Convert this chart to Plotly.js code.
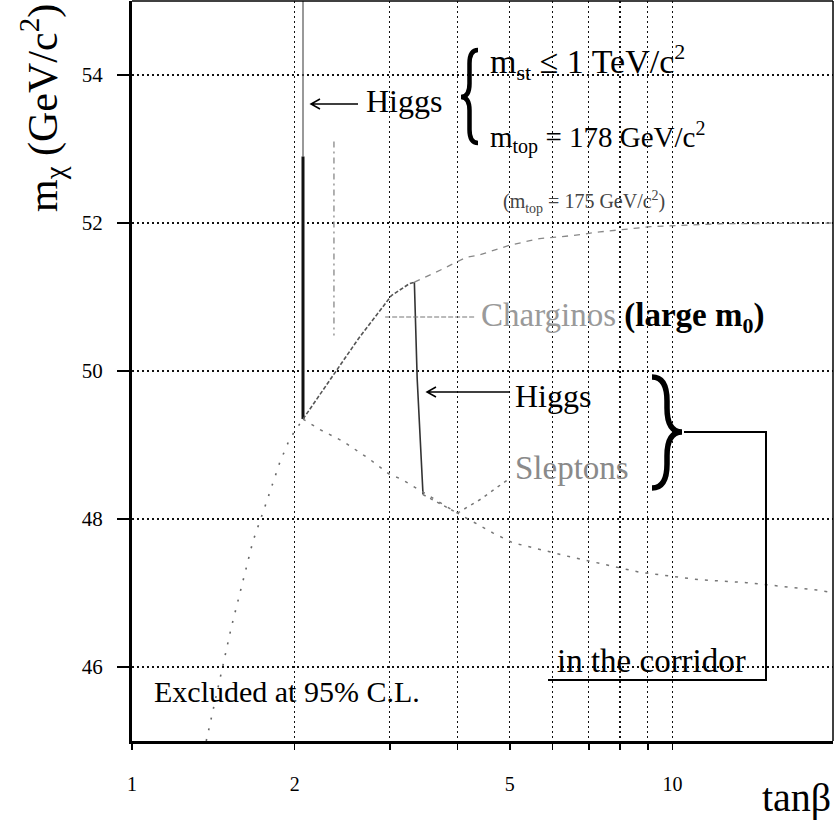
<!DOCTYPE html>
<html><head><meta charset="utf-8">
<script src="https://cdn.plot.ly/plotly-3.0.1.min.js"></script>
<style>html,body{margin:0;padding:0;background:#fff}</style>
</head><body>
<div id="chart" style="width:838px;height:821px"></div>
<script>
// ---- data (tanβ, m_χ in GeV/c²) ----
const higgsThinTanB = [2.072, 2.072];
const higgsThinMass = [55.0, 52.9];
const higgsThickTanB = [2.072, 2.072];
const higgsThickMass = [52.9, 49.35];

const charginoTanB = [2.072, 2.62, 3.02, 3.26, 3.33];
const charginoMass = [49.35, 50.43, 51.02, 51.18, 51.2];

const higgs2TanB = [3.33, 3.37, 3.455];
const higgs2Mass = [51.2, 49.9, 48.33];

const lowLeftTanB = [1.372, 1.483, 1.526, 1.604, 1.674, 1.772, 1.876, 1.957, 2.072];
const lowLeftMass = [45.0, 46.12, 46.53, 47.16, 47.7, 48.22, 48.76, 49.08, 49.35];

const fallTanB = [2.072, 2.225, 2.456, 2.75, 3.0, 3.15, 4.0, 4.66, 5.06, 6.37, 8.7, 11.2, 13.7, 18.5, 20];
const fallMass = [49.35, 49.21, 49.05, 48.81, 48.6, 48.54, 48.08, 47.81, 47.68, 47.5, 47.28, 47.18, 47.14, 47.04, 47.0];

const higgsSlepTanB = [3.455, 4.0];
const higgsSlepMass = [48.33, 48.08];

const sleptonTanB = [4.0, 4.4, 5.0];
const sleptonMass = [48.08, 48.26, 48.55];

const top175TanB = [3.33, 3.60, 3.76, 4.16, 4.36, 5.0, 5.68, 6.54, 7.34, 9.1, 12.2, 20];
const top175Mass = [51.2, 51.31, 51.38, 51.54, 51.56, 51.70, 51.79, 51.83, 51.88, 51.95, 51.99, 52.0];

const higgs175TanB = [2.364, 2.364];
const higgs175Mass = [53.1, 50.48];

const charginoPtrTanB = [2.94, 4.3];
const charginoPtrMass = [50.73, 50.73];

const xTickVals = [1, 2, 5, 10];
const xTickText = ['1', '2', '5', '10'];
const xMinorTickVals = [3, 4, 6, 7, 8, 9];
const yTickVals = [46, 48, 50, 52, 54];

// ---- layout geometry ----
const W = 838, H = 821, L = 132, R = 5, T = 1, B = 80;
const PW = W - L - R, PH = H - T - B;
const px = v => (v - L) / PW;
const py = v => (H - B - v) / PH;
const FONT = 'Liberation Serif, Times New Roman, serif';

function line(x, y, color, width, dash) {
  return {x: x, y: y, type: 'scatter', mode: 'lines', hoverinfo: 'skip', showlegend: false,
          line: {color: color, width: width, dash: dash || 'solid'}};
}
const traces = [
  line(higgsThinTanB, higgsThinMass, '#555', 1.2),
  line(higgsThickTanB, higgsThickMass, '#111', 3),
  line(charginoTanB, charginoMass, '#555', 1.6, '4px,2px'),
  line(higgs2TanB, higgs2Mass, '#333', 1.6),
  line(lowLeftTanB, lowLeftMass, '#666', 1.6, '2px,9px'),
  line(fallTanB, fallMass, '#777', 1.5, '3px,7px'),
  line(higgsSlepTanB, higgsSlepMass, '#777', 1.5, '3px,5px'),
  line(sleptonTanB, sleptonMass, '#777', 1.5, '3px,5px'),
  line(top175TanB, top175Mass, '#888', 1.3, '6px,6px'),
  line(higgs175TanB, higgs175Mass, '#888', 1.3, '6px,4px,2px,4px'),
  line(charginoPtrTanB, charginoPtrMass, '#777', 1.2, '5px,2px')
];

const P = (a, b) => px(a).toFixed(5) + ',' + py(b).toFixed(5);
function brace(xt, xa, y0, y1, ym) {
  const xm = (xt + xa) / 2;
  const d = Math.abs(xa - xt) * 0.8;
  return 'M' + P(xa, y0) + ' Q' + P(xm, y0) + ' ' + P(xm, y0 + d) +
         ' L' + P(xm, ym - d) + ' Q' + P(xm, ym) + ' ' + P(xt, ym) +
         ' Q' + P(xm, ym) + ' ' + P(xm, ym + d) + ' L' + P(xm, y1 - d) +
         ' Q' + P(xm, y1) + ' ' + P(xa, y1);
}
function arrowPath(xHead, xTail, y) {
  return 'M' + P(xTail, y) + ' L' + P(xHead, y) +
         ' M' + P(xHead + 9, y - 5) + ' L' + P(xHead, y) + ' L' + P(xHead + 9, y + 5);
}
const pshape = (path, w) => ({type: 'path', xref: 'paper', yref: 'paper', path: path, line: {color: '#000', width: w}});

const shapes = [
  {type: 'line', xref: 'paper', yref: 'paper', x0: 0, x1: 1, y0: 1, y1: 1, line: {color: '#000', width: 1.5}},
  {type: 'line', xref: 'paper', yref: 'paper', x0: 1, x1: 1, y0: 0, y1: 1, line: {color: '#000', width: 1.5}},
  pshape(brace(461, 478, 50, 143, 97), 4.5),
  pshape(brace(682, 652, 377, 488, 432), 5.5),
  pshape('M' + P(684, 432) + ' L' + P(766, 432) + ' L' + P(766, 680) + ' L' + P(548, 680), 2),
  pshape(arrowPath(311, 358, 104), 1.5),
  pshape(arrowPath(427, 510, 392), 1.5)
];

const sz = (t, s) => '<span style="font-size:' + s + 'px">' + t + '</span>';
function txt(text, x, y, size, extra) {
  return Object.assign({text: text, xref: 'paper', yref: 'paper', x: px(x), y: py(y),
    xanchor: 'left', yanchor: 'middle', showarrow: false,
    font: {family: FONT, size: size, color: '#000'}}, extra || {});
}
const annotations = [
  txt('m<sub>' + sz('χ', 29) + '</sub> (GeV/c<sup>' + sz('2', 29) + '</sup>)', 42, 108, 42, {xanchor: 'center', textangle: -90}),
  txt('tanβ', 796, 797, 40, {xanchor: 'center'}),
  txt('Higgs', 364, 101, 32),
  txt('m<sub>' + sz('st', 22) + '</sub> ≤ 1 TeV/c<sup>' + sz('2', 22) + '</sup>', 488, 62, 34),
  txt('m<sub>' + sz('top', 20) + '</sub> = 178 GeV/c<sup>' + sz('2', 20) + '</sup>', 488, 137, 29),
  txt('(m<sub>' + sz('top', 14) + '</sub> = 175 GeV/c<sup>' + sz('2', 14) + '</sup>)', 501, 202, 20, {font: {family: FONT, size: 20, color: '#444'}}),
  txt('<span style="color:#9a9a9a;font-size:33px">Charginos</span> <b>(large m<sub>' + sz('0', 22) + '</sub>)</b>', 479, 318, 33),
  txt('Higgs', 513, 396, 32),
  txt('Sleptons', 513, 468, 33, {font: {family: FONT, size: 33, color: '#8a8a8a'}}),
  txt('in the corridor', 555, 661, 33),
  txt('Excluded at 95% C.L.', 152, 691, 30)
];

const layout = {
  width: W, height: H,
  margin: {l: L, r: R, t: T, b: B},
  paper_bgcolor: '#fff', plot_bgcolor: '#fff',
  showlegend: false,
  xaxis: {
    type: 'log', range: [0, 1.297],
    tickvals: xTickVals, ticktext: xTickText,
    ticks: 'outside', ticklen: 6, tickwidth: 1.5, tickcolor: '#000',
    showgrid: true, gridcolor: '#111', gridwidth: 1.2, griddash: '2px,3px',
    minor: {tickvals: xMinorTickVals, ticks: 'outside', ticklen: 6, tickwidth: 1.5, tickcolor: '#000',
            showgrid: true, gridcolor: '#111', gridwidth: 1.2, griddash: '2px,3px'},
    showline: true, linewidth: 2.5, linecolor: '#000', zeroline: false,
    tickfont: {family: FONT, size: 20, color: '#000'}, ticklabelstandoff: 17
  },
  yaxis: {
    range: [45, 55], tickvals: yTickVals,
    ticks: 'outside', ticklen: 12, tickwidth: 2, tickcolor: '#000',
    showgrid: true, gridcolor: '#111', gridwidth: 1.2, griddash: '2px,3px',
    showline: true, linewidth: 3, linecolor: '#000', zeroline: false,
    tickfont: {family: FONT, size: 21, color: '#000'}, ticklabelstandoff: 10
  },
  shapes: shapes,
  annotations: annotations
};

Plotly.newPlot('chart', traces, layout, {staticPlot: true, displayModeBar: false});
</script>
</body></html>
